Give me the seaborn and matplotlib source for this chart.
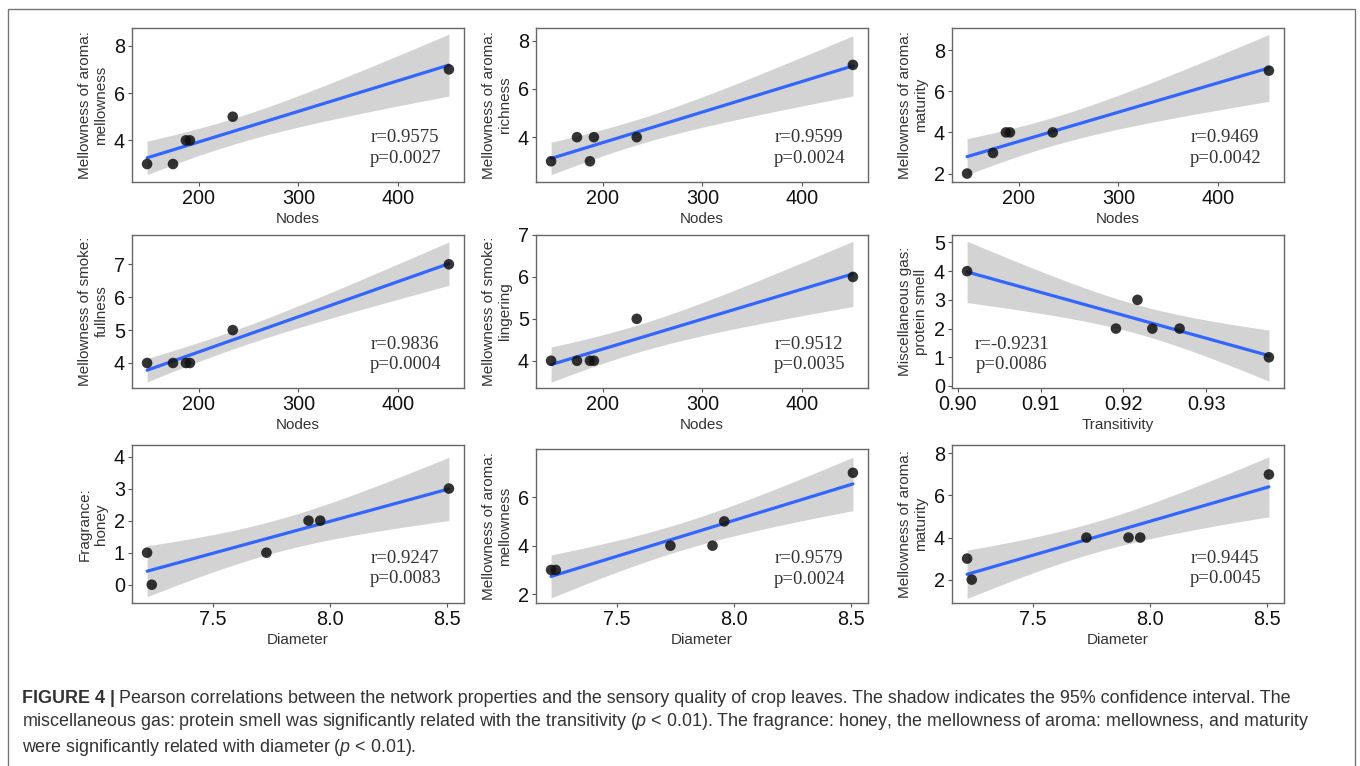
import numpy as np
import pandas as pd
import matplotlib
matplotlib.use('Agg')
import matplotlib.pyplot as plt
import seaborn as sns
from matplotlib import font_manager
from matplotlib.patches import Rectangle


# dados (6 amostras)
nodes = [148, 174, 187, 191, 234, 451]
transitivity = [0.9011, 0.9191, 0.9217, 0.9235, 0.9268, 0.9376]
diameter = [7.22, 7.24, 7.73, 7.91, 7.96, 8.51]

aroma_mellowness_n = [3, 3, 4, 4, 5, 7]
aroma_richness_n = [3, 4, 3, 4, 4, 7]
aroma_maturity_n = [2, 3, 4, 4, 4, 7]
smoke_fullness_n = [4, 4, 4, 4, 5, 7]
smoke_lingering_n = [4, 4, 4, 4, 5, 6]
protein_smell_t = [4, 2, 3, 2, 2, 1]
honey_d = [1, 0, 1, 2, 2, 3]
aroma_mellowness_d = [3, 3, 4, 4, 5, 7]
aroma_maturity_d = [3, 2, 4, 4, 4, 7]

r_values = ['0.9575', '0.9599', '0.9469', '0.9836', '0.9512', '-0.9231', '0.9247', '0.9579', '0.9445']
p_values = ['0.0027', '0.0024', '0.0042', '0.0004', '0.0035', '0.0086', '0.0083', '0.0024', '0.0045']

y_labels = ['Mellowness of aroma:\nmellowness', 'Mellowness of aroma:\nrichness',
            'Mellowness of aroma:\nmaturity', 'Mellowness of smoke:\nfullness',
            'Mellowness of smoke:\nlingering', 'Miscellaneous gas:\nprotein smell',
            'Fragrance:\nhoney', 'Mellowness of aroma:\nmellowness', 'Mellowness of aroma:\nmaturity']
x_labels = ['Nodes', 'Nodes', 'Nodes', 'Nodes', 'Nodes', 'Transitivity', 'Diameter', 'Diameter', 'Diameter']

x_data = [nodes, nodes, nodes, nodes, nodes, transitivity, diameter, diameter, diameter]
y_data = [aroma_mellowness_n, aroma_richness_n, aroma_maturity_n, smoke_fullness_n, smoke_lingering_n,
          protein_smell_t, honey_d, aroma_mellowness_d, aroma_maturity_d]

# layout (pixels)
W, H = 1360, 766
col_left = [132, 536, 952]
col_width = 332
row_box = [(28, 182), (235, 388), (445, 603)]
y_lims = [(2.24, 8.75), (2.14, 8.53), (1.59, 9.07), (3.24, 7.89), (3.35, 7.0),
          (-0.07, 5.26), (-0.57, 4.36), (1.64, 7.98), (0.89, 8.4)]
y_ticks = [[4, 6, 8], [4, 6, 8], [2, 4, 6, 8], [4, 5, 6, 7], [4, 5, 6, 7],
           [0, 1, 2, 3, 4, 5], [0, 1, 2, 3, 4], [2, 4, 6], [2, 4, 6, 8]]

T975_DF4 = 2.7764  # quantil t (0.975, n-2 = 4 gl)


def banda_confianca(x, y, grid):
    # intervalo de confianca de 95% da reta ajustada (como no geom_smooth)
    x = np.asarray(x, float)
    y = np.asarray(y, float)
    n = len(x)
    b1, b0 = np.polyfit(x, y, 1)
    resid = y - (b0 + b1 * x)
    s = np.sqrt(np.sum(resid ** 2) / (n - 2))
    se = s * np.sqrt(1 / n + (grid - x.mean()) ** 2 / np.sum((x - x.mean()) ** 2))
    fit = b0 + b1 * grid
    return fit - T975_DF4 * se, fit + T975_DF4 * se


def has_font(name):
    try:
        font_manager.findfont(font_manager.FontProperties(family=name), fallback_to_default=False)
        return True
    except ValueError:
        return False


sns.set_style('white')
plt.rcParams['font.family'] = ['Liberation Sans', 'DejaVu Sans']

fig = plt.figure(figsize=(W / 100, H / 100), dpi=100)

for i in range(9):
    row, col = divmod(i, 3)
    top, bottom = row_box[row]
    if i == 7:
        top = 449
    ax = fig.add_axes([col_left[col] / W, 1 - bottom / H, col_width / W, (bottom - top) / H])

    df = pd.DataFrame({'x': x_data[i], 'y': y_data[i]})
    sns.regplot(data=df, x='x', y='y', ax=ax, ci=None, truncate=True,
                scatter_kws={'s': 58, 'color': '#111111', 'alpha': 0.85, 'edgecolor': 'none', 'zorder': 4},
                line_kws={'color': '#3366FF', 'lw': 2.3, 'zorder': 3})

    grid = np.linspace(min(x_data[i]), max(x_data[i]), 80)
    lo, hi = banda_confianca(x_data[i], y_data[i], grid)
    ax.fill_between(grid, lo, hi, color='#d3d3d3', lw=0, zorder=1)

    # expansao de 5% no eixo x
    xmin, xmax = min(x_data[i]), max(x_data[i])
    pad = (xmax - xmin) * 0.05
    ax.set_xlim(xmin - pad, xmax + pad)
    ax.set_ylim(*y_lims[i])
    ax.set_yticks(y_ticks[i])
    if x_labels[i] == 'Nodes':
        ax.set_xticks([200, 300, 400])
    elif x_labels[i] == 'Transitivity':
        ax.set_xticks([0.90, 0.91, 0.92, 0.93])
        ax.set_xticklabels(['0.90', '0.91', '0.92', '0.93'])
    else:
        ax.set_xticks([7.5, 8.0, 8.5])
        ax.set_xticklabels(['7.5', '8.0', '8.5'])

    ax.set_xlabel(x_labels[i], fontsize=11, color='#333333', labelpad=3)
    ax.set_ylabel(y_labels[i], fontsize=11, color='#333333', labelpad=4, linespacing=1.25)
    ax.tick_params(axis='both', labelsize=14.3, colors='#111111', length=3, width=0.8,
                   direction='out', bottom=True, left=True, pad=2)
    ax.tick_params(axis='both', color='#555555')
    for s in ax.spines.values():
        s.set_visible(True)
        s.set_color('#666666')
        s.set_linewidth(1.0)

    txt = 'r=' + r_values[i] + '\np=' + p_values[i]
    tx = 0.18 if i == 5 else 0.823
    ax.text(tx, 0.22, txt, transform=ax.transAxes, ha='center', va='center',
            fontsize=13.5, color='#333333', family='Liberation Serif', linespacing=1.25)

# moldura externa
fig.patches.append(Rectangle((8 / W, -0.05), (1355 - 8) / W, 1 - 9 / H + 0.05,
                             transform=fig.transFigure, fill=False, edgecolor='#777777',
                             linewidth=1.0, clip_on=False))

# legenda da figura
cap_font = 'Liberation Sans Narrow' if has_font('Liberation Sans Narrow') else 'Liberation Sans'
cap_size = 14.5 if cap_font == 'Liberation Sans Narrow' else 12.9
plt.rcParams['mathtext.fontset'] = 'custom'
plt.rcParams['mathtext.it'] = cap_font + ':italic'
plt.rcParams['mathtext.rm'] = cap_font

line1 = ('Pearson correlations between the network properties and the sensory quality of crop leaves. '
         'The shadow indicates the 95% confidence interval. The')
line2 = ('miscellaneous gas: protein smell was significantly related with the transitivity ($\\it{p}$ < 0.01). '
         'The fragrance: honey, the mellowness of aroma: mellowness, and maturity')
line3 = 'were significantly related with diameter ($\\it{p}$ < 0.01).'

t0 = fig.text(22 / W, 1 - 707 / H, 'FIGURE 4 |', fontsize=cap_size, weight='bold',
              family=cap_font, color='#333333', va='bottom')
plt.annotate(line1, xy=(1, 0), xycoords=t0, xytext=(3, 0), textcoords='offset points',
             fontsize=cap_size, family=cap_font, color='#333333', va='bottom', ha='left')
fig.text(22 / W, 1 - 732.5 / H, line2, fontsize=cap_size, family=cap_font, color='#333333', va='bottom')
fig.text(22 / W, 1 - 758 / H, line3, fontsize=cap_size, family=cap_font, color='#333333', va='bottom')

fig.savefig('out.png', dpi=100)
